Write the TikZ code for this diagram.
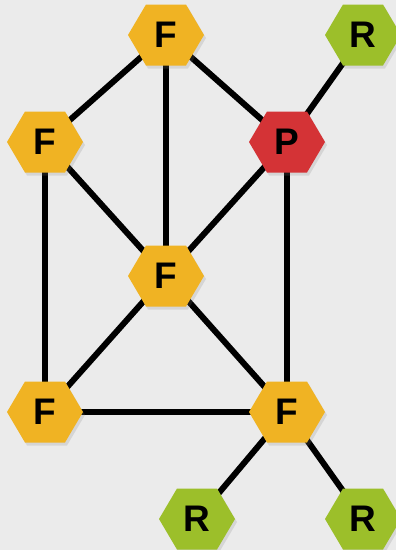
\documentclass[tikz,border=0pt]{standalone}
\usepackage{fontspec}
\setmainfont{Liberation Sans}
\usetikzlibrary{shadows}
\pgfdeclarelayer{edgelayer}
\pgfdeclarelayer{bglayer}
\pgfdeclarelayer{hexlayer}
\pgfsetlayers{bglayer,edgelayer,hexlayer,main}
\definecolor{bgc}{HTML}{EBEBEB}
\definecolor{fcol}{HTML}{F0B323}
\definecolor{pcol}{HTML}{D43336}
\definecolor{rcol}{HTML}{9CBF2A}
\tikzset{
  lbl/.style={inner sep=0pt, font=\fontsize{37}{37}\selectfont\bfseries, text=black},
  hexfill/.style={drop shadow={opacity=0.2, shadow xshift=2pt, shadow yshift=-3pt}},
  link/.style={line width=6pt, black}
}
\newcommand\hexat[2]{%
  \begin{pgfonlayer}{hexlayer}
  \fill[#2, hexfill] ([xshift=-38pt]#1.center) -- ++(18pt,30.5pt) -- ++(40pt,0pt) -- ++(18pt,-30.5pt)
     -- ++(-18pt,-30.5pt) -- ++(-40pt,0pt) -- cycle;
  \end{pgfonlayer}}
\begin{document}
\begin{tikzpicture}[x=1pt,y=-1pt]
\begin{pgfonlayer}{bglayer}
\fill[bgc] (0,0) rectangle (396,550);
\end{pgfonlayer}
\useasboundingbox (0,0) rectangle (396,550);
\node[lbl] (ft) at (166,35) {F};
\node[lbl] (rt) at (363,35) {R};
\node[lbl] (fl) at (45,142) {F};
\node[lbl] (p) at (287,142) {P};
\node[lbl] (fc) at (166,276) {F};
\node[lbl] (fbl) at (45,412) {F};
\node[lbl] (fbr) at (287,412) {F};
\node[lbl] (rbl) at (197,519) {R};
\node[lbl] (rbr) at (363,519) {R};
\hexat{ft}{fcol}
\hexat{rt}{rcol}
\hexat{fl}{fcol}
\hexat{p}{pcol}
\hexat{fc}{fcol}
\hexat{fbl}{fcol}
\hexat{fbr}{fcol}
\hexat{rbl}{rcol}
\hexat{rbr}{rcol}
\begin{pgfonlayer}{edgelayer}
\draw[link] (ft.center) -- (fl.center);
\draw[link] (ft.center) -- (fc.center);
\draw[link] (ft.center) -- (p.center);
\draw[link] (rt.center) -- (p.center);
\draw[link] (fl.center) -- (fc.center);
\draw[link] (fl.center) -- (fbl.center);
\draw[link] (p.center) -- (fc.center);
\draw[link] (p.center) -- (fbr.center);
\draw[link] (fc.center) -- (fbl.center);
\draw[link] (fc.center) -- (fbr.center);
\draw[link] (fbl.center) -- (fbr.center);
\draw[link] (fbr.center) -- (rbl.center);
\draw[link] (fbr.center) -- (rbr.center);
\end{pgfonlayer}
\end{tikzpicture}
\end{document}
